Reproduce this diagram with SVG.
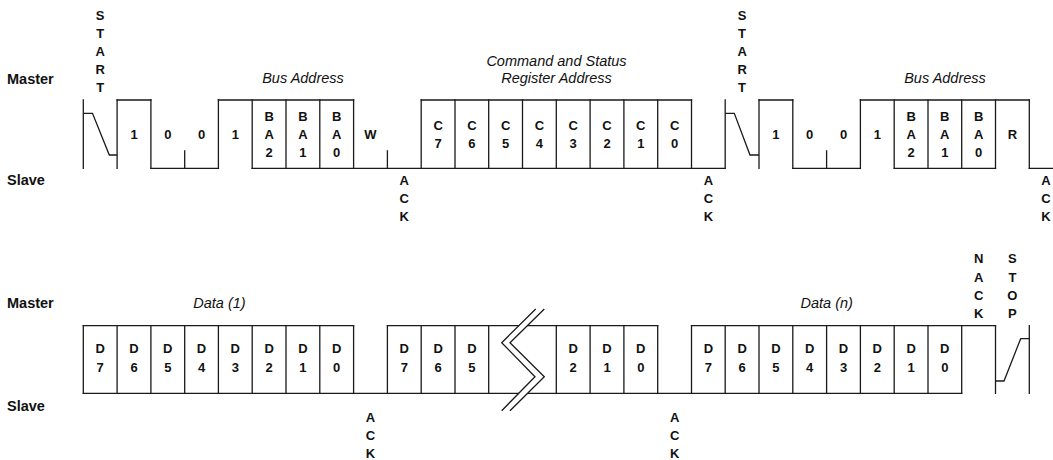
<svg xmlns="http://www.w3.org/2000/svg" width="1053" height="460" viewBox="0 0 1053 460">
<style>
.w{fill:none;stroke:#1a1a1a;stroke-width:1.3;stroke-linecap:square}
.t{fill:none;stroke:#1a1a1a;stroke-width:1.3}
.side{font-family:"Liberation Sans",Arial,sans-serif;font-weight:bold;font-size:14.5px;fill:#111}
.it{font-family:"Liberation Sans",Arial,sans-serif;font-style:italic;font-size:14.5px;fill:#111;text-anchor:middle}
.b{font-family:"Liberation Sans",Arial,sans-serif;font-weight:bold;font-size:13px;fill:#111;text-anchor:middle}
</style>
<rect width="1053" height="460" fill="#fff"/>

<g id="side-labels">
<text class="side" x="7" y="84.3">Master</text>
<text class="side" x="7" y="185">Slave</text>
<text class="side" x="7" y="308.3">Master</text>
<text class="side" x="7" y="410.7">Slave</text>
</g>

<g id="titles">
<text class="it" x="303" y="83.3">Bus Address</text>
<text class="it" x="556.5" y="65.7">Command and Status</text>
<text class="it" x="556.5" y="83.3">Register Address</text>
<text class="it" x="945" y="83.3">Bus Address</text>
<text class="it" x="219.5" y="308.3">Data (1)</text>
<text class="it" x="826.7" y="308.3">Data (n)</text>
</g>

<g id="row1-wave">
<!-- tops -->
<path class="w" d="M117.1,100H150.9 M218.4,100H353.6 M421.2,100H691.5 M759,100H792.8 M860.4,100H1029.3"/>
<!-- bottoms -->
<path class="w" d="M150.9,168.3H218.4 M252.2,168.3H725.2 M792.8,168.3H860.4 M894.2,168.3H995.5 M1029.3,168.3H1053"/>
<!-- full verticals -->
<path class="w" d="M83.3,100V168.3 M117.1,100V168.3 M150.9,100V168.3 M218.4,100V168.3 M252.2,100V168.3 M286,100V168.3 M319.8,100V168.3 M353.6,100V168.3 M421.2,100V168.3 M455,100V168.3 M488.7,100V168.3 M522.5,100V168.3 M556.3,100V168.3 M590.1,100V168.3 M623.9,100V168.3 M657.7,100V168.3 M691.5,100V168.3 M725.2,100V168.3 M759,100V168.3 M792.8,100V168.3 M860.4,100V168.3 M894.2,100V168.3 M928,100V168.3 M961.7,100V168.3 M995.5,100V168.3 M1029.3,100V168.3"/>
<!-- ticks -->
<path class="w" d="M184.7,151V168.3 M387.4,151V168.3 M826.6,151V168.3"/>
<!-- start conditions -->
<path class="t" d="M83.3,113.3H92.5L109.3,155H117.1"/>
<path class="t" d="M725.2,113.3H734.3L750,155H759"/>
</g>

<g id="row2-wave">
<path class="w" d="M83.3,325.7H353.6 M387.4,325.7H657.7 M691.5,325.7H995.5"/>
<path class="w" d="M83.3,393.3H961.7"/>
<path class="w" d="M83.3,325.7V393.3 M117.1,325.7V393.3 M150.9,325.7V393.3 M184.7,325.7V393.3 M218.4,325.7V393.3 M252.2,325.7V393.3 M286,325.7V393.3 M319.8,325.7V393.3 M353.6,325.7V393.3 M387.4,325.7V393.3 M421.2,325.7V393.3 M455,325.7V393.3 M488.7,325.7V393.3 M556.3,325.7V393.3 M590.1,325.7V393.3 M623.9,325.7V393.3 M657.7,325.7V393.3 M691.5,325.7V393.3 M725.2,325.7V393.3 M759,325.7V393.3 M792.8,325.7V393.3 M826.6,325.7V393.3 M860.4,325.7V393.3 M894.2,325.7V393.3 M928,325.7V393.3 M961.7,325.7V393.3 M995.5,325.7V393.3 M1029.3,325.7V393.3"/>
<!-- stop condition -->
<path class="t" d="M995.5,381H1004L1020.7,338.7H1029.3"/>
<!-- break symbol -->
<polygon points="535.7,309 501.7,342.7 535,376.7 501.7,410.7 510,410.7 544.3,376.7 510,342.7 544.3,309" fill="#fff" stroke="none"/>
<path class="t" d="M535.7,309L501.7,342.7L535,376.7L501.7,410.7"/>
<path class="t" d="M544.3,309L510,342.7L544.3,376.7L510,410.7"/>
</g>

<g id="row1-bits">
<text class="b" x="134" y="139.3">1</text>
<text class="b" x="167.8" y="139.3">0</text>
<text class="b" x="201.5" y="139.3">0</text>
<text class="b" x="235.3" y="139.3">1</text>
<text class="b" x="269.1" y="120.8">B<tspan x="269.1" dy="18.4">A</tspan><tspan x="269.1" dy="18">2</tspan></text>
<text class="b" x="302.9" y="120.8">B<tspan x="302.9" dy="18.4">A</tspan><tspan x="302.9" dy="18">1</tspan></text>
<text class="b" x="336.7" y="120.8">B<tspan x="336.7" dy="18.4">A</tspan><tspan x="336.7" dy="18">0</tspan></text>
<text class="b" x="370.5" y="139.3">W</text>
<text class="b" x="438.1" y="130">C<tspan x="438.1" dy="17.8">7</tspan></text>
<text class="b" x="471.9" y="130">C<tspan x="471.9" dy="17.8">6</tspan></text>
<text class="b" x="505.6" y="130">C<tspan x="505.6" dy="17.8">5</tspan></text>
<text class="b" x="539.4" y="130">C<tspan x="539.4" dy="17.8">4</tspan></text>
<text class="b" x="573.2" y="130">C<tspan x="573.2" dy="17.8">3</tspan></text>
<text class="b" x="607" y="130">C<tspan x="607" dy="17.8">2</tspan></text>
<text class="b" x="640.8" y="130">C<tspan x="640.8" dy="17.8">1</tspan></text>
<text class="b" x="674.6" y="130">C<tspan x="674.6" dy="17.8">0</tspan></text>
<text class="b" x="775.9" y="139.3">1</text>
<text class="b" x="809.7" y="139.3">0</text>
<text class="b" x="843.5" y="139.3">0</text>
<text class="b" x="877.3" y="139.3">1</text>
<text class="b" x="911.1" y="120.8">B<tspan x="911.1" dy="18.4">A</tspan><tspan x="911.1" dy="18">2</tspan></text>
<text class="b" x="944.8" y="120.8">B<tspan x="944.8" dy="18.4">A</tspan><tspan x="944.8" dy="18">1</tspan></text>
<text class="b" x="978.6" y="120.8">B<tspan x="978.6" dy="18.4">A</tspan><tspan x="978.6" dy="18">0</tspan></text>
<text class="b" x="1012.4" y="139.3">R</text>
</g>

<g id="row2-bits">
<text class="b" x="100.2" y="353.3">D<tspan x="100.2" dy="18.6">7</tspan></text>
<text class="b" x="134" y="353.3">D<tspan x="134" dy="18.6">6</tspan></text>
<text class="b" x="167.8" y="353.3">D<tspan x="167.8" dy="18.6">5</tspan></text>
<text class="b" x="201.5" y="353.3">D<tspan x="201.5" dy="18.6">4</tspan></text>
<text class="b" x="235.3" y="353.3">D<tspan x="235.3" dy="18.6">3</tspan></text>
<text class="b" x="269.1" y="353.3">D<tspan x="269.1" dy="18.6">2</tspan></text>
<text class="b" x="302.9" y="353.3">D<tspan x="302.9" dy="18.6">1</tspan></text>
<text class="b" x="336.7" y="353.3">D<tspan x="336.7" dy="18.6">0</tspan></text>
<text class="b" x="404.3" y="353.3">D<tspan x="404.3" dy="18.6">7</tspan></text>
<text class="b" x="438.1" y="353.3">D<tspan x="438.1" dy="18.6">6</tspan></text>
<text class="b" x="471.9" y="353.3">D<tspan x="471.9" dy="18.6">5</tspan></text>
<text class="b" x="573.2" y="353.3">D<tspan x="573.2" dy="18.6">2</tspan></text>
<text class="b" x="607" y="353.3">D<tspan x="607" dy="18.6">1</tspan></text>
<text class="b" x="640.8" y="353.3">D<tspan x="640.8" dy="18.6">0</tspan></text>
<text class="b" x="708.4" y="353.3">D<tspan x="708.4" dy="18.6">7</tspan></text>
<text class="b" x="742.1" y="353.3">D<tspan x="742.1" dy="18.6">6</tspan></text>
<text class="b" x="775.9" y="353.3">D<tspan x="775.9" dy="18.6">5</tspan></text>
<text class="b" x="809.7" y="353.3">D<tspan x="809.7" dy="18.6">4</tspan></text>
<text class="b" x="843.5" y="353.3">D<tspan x="843.5" dy="18.6">3</tspan></text>
<text class="b" x="877.3" y="353.3">D<tspan x="877.3" dy="18.6">2</tspan></text>
<text class="b" x="911.1" y="353.3">D<tspan x="911.1" dy="18.6">1</tspan></text>
<text class="b" x="944.8" y="353.3">D<tspan x="944.8" dy="18.6">0</tspan></text>
</g>

<g id="conditions">
<text class="b" x="100.2" y="19.5">S<tspan x="100.2" dy="18.2">T</tspan><tspan x="100.2" dy="18.2">A</tspan><tspan x="100.2" dy="18.2">R</tspan><tspan x="100.2" dy="18.2">T</tspan></text>
<text class="b" x="742.1" y="19.5">S<tspan x="742.1" dy="18.2">T</tspan><tspan x="742.1" dy="18.2">A</tspan><tspan x="742.1" dy="18.2">R</tspan><tspan x="742.1" dy="18.2">T</tspan></text>
<text class="b" x="404.3" y="184.8">A<tspan x="404.3" dy="18">C</tspan><tspan x="404.3" dy="18">K</tspan></text>
<text class="b" x="708.4" y="184.8">A<tspan x="708.4" dy="18">C</tspan><tspan x="708.4" dy="18">K</tspan></text>
<text class="b" x="1046" y="184.8">A<tspan x="1046" dy="18">C</tspan><tspan x="1046" dy="18">K</tspan></text>
<text class="b" x="370.5" y="421.7">A<tspan x="370.5" dy="18.2">C</tspan><tspan x="370.5" dy="18.2">K</tspan></text>
<text class="b" x="674.6" y="421.7">A<tspan x="674.6" dy="18.2">C</tspan><tspan x="674.6" dy="18.2">K</tspan></text>
<text class="b" x="978.6" y="263.4">N<tspan x="978.6" dy="18.2">A</tspan><tspan x="978.6" dy="18.2">C</tspan><tspan x="978.6" dy="18.2">K</tspan></text>
<text class="b" x="1012.4" y="263.4">S<tspan x="1012.4" dy="18.2">T</tspan><tspan x="1012.4" dy="18.2">O</tspan><tspan x="1012.4" dy="18.2">P</tspan></text>
</g>
</svg>
